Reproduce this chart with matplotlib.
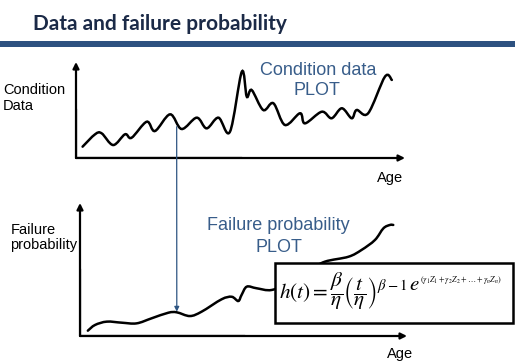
import numpy as np
import matplotlib
matplotlib.use("Agg")
import matplotlib.pyplot as plt
from matplotlib.path import Path
from matplotlib.patches import PathPatch, Rectangle

# ---------------- data ----------------
title = "Data and failure probability"

# condition data curve (age 0-100, condition 0-100)
cond_age = [2.0, 5.8, 7.8, 11.3, 14.9, 16.9, 21.5, 24.0, 28.6, 32.1, 36.7, 39.7,
            43.3, 46.8, 50.4, 51.9, 53.4, 56.9, 60.0, 63.5, 68.1, 69.6, 74.7,
            77.7, 80.8, 83.8, 85.3, 88.8, 93.9, 96.0]
cond_val = [11.8, 24.7, 25.7, 13.5, 24.7, 21.1, 37.8, 28.1, 45.5, 30.2, 42.0, 30.9,
            42.0, 27.4, 89.9, 63.9, 70.8, 50.0, 57.0, 34.4, 46.6, 36.1, 48.2,
            41.4, 51.8, 41.4, 50.0, 46.6, 84.7, 81.3]

# failure probability curve (age 0-100, probability 0-100)
fail_age = [2.4, 4.6, 8.2, 12.8, 17.3, 21.9, 27.0, 29.6, 33.6, 37.2, 43.3, 46.4,
            48.4, 49.4, 51.0, 54.0, 58.6, 64.2, 70.3, 74.9, 82.1, 86.1, 90.2,
            92.8, 94.8, 95.8]
fail_val = [4.0, 8.3, 10.8, 10.0, 9.5, 13.3, 17.5, 17.8, 15.0, 18.3, 27.6, 29.5,
            26.3, 30.8, 37.1, 35.9, 34.6, 40.6, 49.6, 55.9, 59.6, 64.7, 72.2,
            81.0, 83.5, 83.5]

# link between the two plots
link_top = (30.6, 32.6)   # (age, condition)
link_bot = (29.6, 18.3)   # (age, probability)

top_ylabel = ["Condition", "Data"]
bot_ylabel = ["Failure", "probability"]
top_note = ["Condition data", "PLOT"]
bot_note = ["Failure probability", "PLOT"]
xlabel = "Age"
formula_main = r"$h(t)=\dfrac{\beta}{\eta}\left(\dfrac{t}{\eta}\right)^{\beta-1}$"
formula_e = r"$e$"
formula_exp = r"$(\gamma_1 Z_1+\gamma_2 Z_2+\ldots+\gamma_n Z_n)$"

# ---------------- layout ----------------
W, H = 515, 364
fig = plt.figure(figsize=(W / 100, H / 100), dpi=100)
fig.patch.set_facecolor("white")


def fx(px):
    return px / W


def fy(py):
    return 1 - py / H


def smooth_path(x, y):
    pts = np.column_stack([x, y]).astype(float)
    n = len(pts)
    verts = [pts[0]]
    codes = [Path.MOVETO]
    for i in range(n - 1):
        p0 = pts[i - 1] if i > 0 else pts[i]
        p1 = pts[i]
        p2 = pts[i + 1]
        p3 = pts[i + 2] if i + 2 < n else pts[i + 1]
        verts += [p1 + (p2 - p0) / 6.0, p2 - (p3 - p1) / 6.0, p2]
        codes += [Path.CURVE4] * 3
    return Path(verts, codes)


NAVY = "#385D8A"
sans = "Liberation Sans"

# title + band
fig.text(fx(33), fy(30), title, fontsize=15, fontweight="bold", family="Lato",
         color="#1B2A47", va="baseline", ha="left")
fig.add_artist(Rectangle((0, fy(47.3)), 1, 6.6 / H, transform=fig.transFigure,
                         facecolor="#2D5180", edgecolor="none"))


def make_axes(x0, y0, x1, y1):
    ax = fig.add_axes([fx(x0), fy(y0), (x1 - x0) / W, (y0 - y1) / H])
    ax.set_xlim(0, 100)
    ax.set_ylim(0, 100)
    ax.axis("off")
    ap = dict(arrowstyle="-|>", lw=1.6, color="black", mutation_scale=9,
              shrinkA=0, shrinkB=0)
    ax.plot([0, 0, 0.5], [0.5, 0, 0], transform=ax.transAxes, color="black",
            lw=1.6, solid_joinstyle="miter", solid_capstyle="projecting")
    ax.annotate("", xy=(0, 1), xytext=(0, 0), xycoords="axes fraction",
                arrowprops=ap, annotation_clip=False)
    ax.annotate("", xy=(1, 0), xytext=(0, 0), xycoords="axes fraction",
                arrowprops=ap, annotation_clip=False)
    return ax


ax1 = make_axes(76, 158, 405, 62)
ax2 = make_axes(80, 336, 407, 203)

ax1.add_patch(PathPatch(smooth_path(cond_age, cond_val), fill=False, lw=1.8,
                        edgecolor="black", clip_on=False, capstyle="round"))
ax2.add_patch(PathPatch(smooth_path(fail_age, fail_val), fill=False, lw=1.8,
                        edgecolor="black", clip_on=False, capstyle="round"))

ax2.annotate("", xy=link_bot, xycoords="data", xytext=link_top,
             textcoords=ax1.transData, annotation_clip=False,
             arrowprops=dict(arrowstyle="-|>", color="#2E5582", lw=0.9,
                             mutation_scale=7, shrinkA=0, shrinkB=0))

# axis labels
fig.text(fx(3), fy(94), top_ylabel[0], fontsize=10.5, family=sans, va="baseline")
fig.text(fx(3), fy(110), top_ylabel[1], fontsize=10.5, family=sans, va="baseline")
fig.text(fx(10.5), fy(234.3), bot_ylabel[0], fontsize=10.5, family=sans, va="baseline")
fig.text(fx(10.5), fy(249), bot_ylabel[1], fontsize=10.5, family=sans, va="baseline")
fig.text(fx(376.7), fy(181.7), xlabel, fontsize=10.5, family=sans, va="baseline")
fig.text(fx(386.7), fy(358), xlabel, fontsize=10.5, family=sans, va="baseline")

# notes
fig.text(fx(318), fy(75), top_note[0], fontsize=13, family=sans, color=NAVY,
         ha="center", va="baseline")
fig.text(fx(316.5), fy(95), top_note[1], fontsize=13, family=sans, color=NAVY,
         ha="center", va="baseline")
fig.text(fx(278.5), fy(230), bot_note[0], fontsize=13, family=sans, color=NAVY,
         ha="center", va="baseline")
fig.text(fx(278.5), fy(251.7), bot_note[1], fontsize=13, family=sans, color=NAVY,
         ha="center", va="baseline")

# formula box
fig.add_artist(Rectangle((fx(275), fy(323)), (513 - 275) / W, (323 - 262.7) / H,
                         transform=fig.transFigure, facecolor="white",
                         edgecolor="black", lw=1.8, zorder=5))
fig.text(fx(279), fy(291), formula_main, fontsize=15.3, math_fontfamily="stix",
         ha="left", va="center", zorder=6)
fig.text(fx(409), fy(290), formula_e, fontsize=15, math_fontfamily="stix",
         ha="left", va="baseline", zorder=6)
fig.text(fx(419.5), fy(282), formula_exp, fontsize=5.9, math_fontfamily="stix",
         ha="left", va="baseline", zorder=6)

fig.savefig("out.png", dpi=100)
